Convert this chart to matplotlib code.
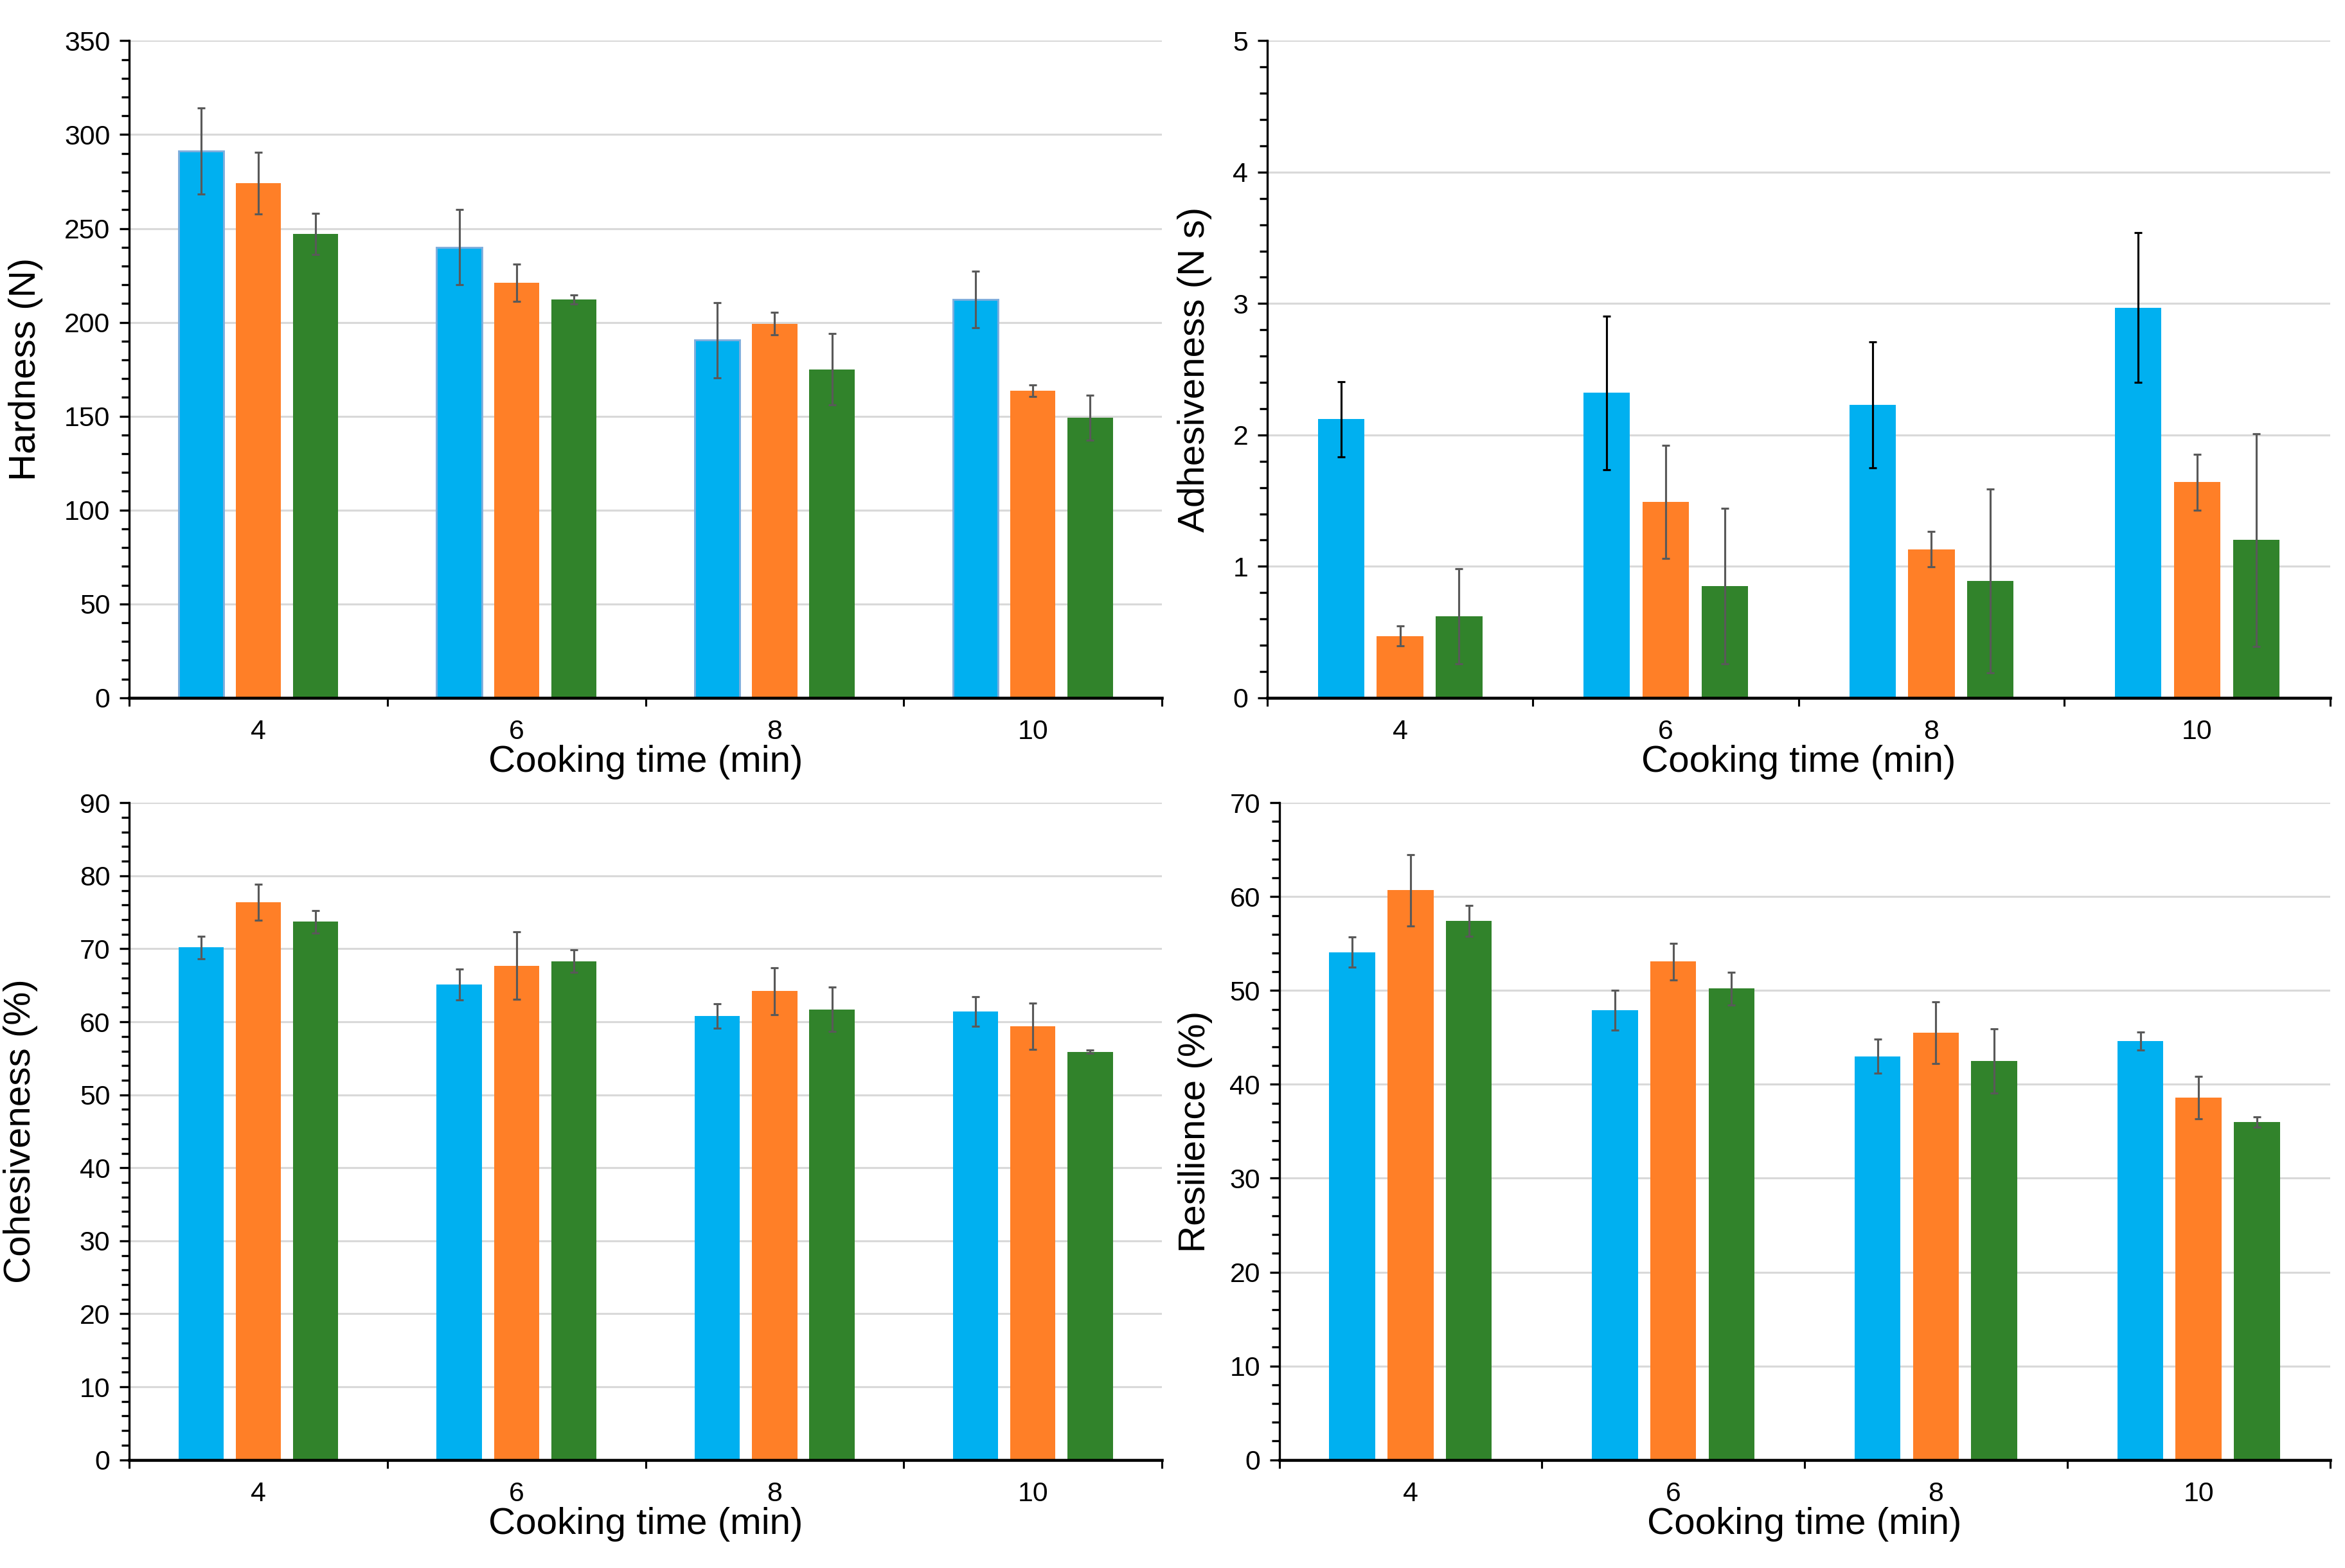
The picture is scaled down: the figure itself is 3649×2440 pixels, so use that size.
import matplotlib
matplotlib.use("Agg")
import matplotlib.pyplot as plt
import numpy as np
from matplotlib.ticker import MultipleLocator

plt.rcParams['font.family'] = ['Liberation Sans', 'DejaVu Sans']

cooking_time = ["4", "6", "8", "10"]

# Hardness (N)
hard_blue = [291.3, 240.0, 190.5, 212.2]
hard_blue_err = [23, 20, 20, 15]
hard_orange = [274.2, 221.0, 199.3, 163.5]
hard_orange_err = [16.5, 10, 6, 3]
hard_green = [247.2, 212.2, 175.0, 149.3]
hard_green_err = [11, 2.5, 19, 12]

# Adhesiveness (N s)
adh_blue = [2.12, 2.32, 2.23, 2.97]
adh_blue_err = [0.285, 0.585, 0.48, 0.57]
adh_orange = [0.47, 1.49, 1.13, 1.64]
adh_orange_err = [0.075, 0.43, 0.135, 0.215]
adh_green = [0.62, 0.85, 0.89, 1.20]
adh_green_err = [0.36, 0.59, 0.70, 0.81]

# Cohesiveness (%)
coh_blue = [70.2, 65.1, 60.8, 61.4]
coh_blue_err = [1.55, 2.1, 1.65, 2.0]
coh_orange = [76.4, 67.7, 64.2, 59.4]
coh_orange_err = [2.45, 4.65, 3.2, 3.2]
coh_green = [73.7, 68.3, 61.7, 55.9]
coh_green_err = [1.55, 1.55, 3.05, 0.2]

# Resilience (%)
res_blue = [54.1, 47.9, 43.0, 44.6]
res_blue_err = [1.6, 2.15, 1.8, 0.95]
res_orange = [60.7, 53.1, 45.5, 38.6]
res_orange_err = [3.8, 1.95, 3.3, 2.25]
res_green = [57.4, 50.2, 42.5, 36.0]
res_green_err = [1.65, 1.75, 3.4, 0.55]

c_blue = '#00B0F0'
c_orange = '#FF7F27'
c_green = '#31832B'
err_col = '#595959'

fig = plt.figure(figsize=(3649/300, 2440/300), dpi=300)

# [left, bottom, width, height], ymax, major, minor, ylabel, label x
panels = [
    ([0.0551, 0.555, 0.4404, 0.419], 350, 50, 10, "Hardness (N)", -0.100,
     (hard_blue, hard_blue_err), (hard_orange, hard_orange_err), (hard_green, hard_green_err)),
    ([0.5404, 0.555, 0.4532, 0.419], 5, 1, 0.2, "Adhesiveness (N s)", -0.068,
     (adh_blue, adh_blue_err), (adh_orange, adh_orange_err), (adh_green, adh_green_err)),
    ([0.0551, 0.069, 0.4404, 0.419], 90, 10, 2, "Cohesiveness (%)", -0.105,
     (coh_blue, coh_blue_err), (coh_orange, coh_orange_err), (coh_green, coh_green_err)),
    ([0.5455, 0.069, 0.4481, 0.419], 70, 10, 2, "Resilience (%)", -0.080,
     (res_blue, res_blue_err), (res_orange, res_orange_err), (res_green, res_green_err)),
]

x = np.arange(len(cooking_time)) + 0.5
w = 0.175
off = 0.222

for i, (rect, ymax, major, minor, ylab, labx, sb, so, sg) in enumerate(panels):
    ax = fig.add_axes(rect)
    blue_edge = '#7FAEDD' if i == 0 else 'none'
    blue_err = 'black' if i == 1 else err_col
    ax.bar(x - off, sb[0], w, color=c_blue, edgecolor=blue_edge, linewidth=0.7, zorder=2)
    ax.bar(x, so[0], w, color=c_orange, zorder=2)
    ax.bar(x + off, sg[0], w, color=c_green, zorder=2)
    for xs, (vals, errs), ec in [(x - off, sb, blue_err), (x, so, err_col), (x + off, sg, err_col)]:
        ax.errorbar(xs, vals, yerr=errs, fmt='none', ecolor=ec, elinewidth=0.75,
                    capsize=1.5, capthick=0.75, zorder=3)

    ax.set_xlim(0, 4)
    ax.set_ylim(0, ymax)
    ax.yaxis.set_major_locator(MultipleLocator(major))
    ax.yaxis.set_minor_locator(MultipleLocator(minor))
    ax.grid(axis='y', color='#D9D9D9', linewidth=0.75, zorder=0)
    ax.set_axisbelow(True)

    ax.set_xticks([0, 1, 2, 3, 4])
    ax.set_xticklabels([])
    ax.set_xticks(x, minor=True)
    ax.set_xticklabels(cooking_time, minor=True)
    ax.tick_params(axis='x', which='major', direction='out', length=3.2, width=0.75)
    ax.tick_params(axis='x', which='minor', length=0, pad=8, labelsize=10.3)
    ax.tick_params(axis='y', which='major', direction='out', length=3.6, width=0.8, labelsize=10.3)
    ax.tick_params(axis='y', which='minor', direction='out', length=2.8, width=0.8)

    for s in ['top', 'right']:
        ax.spines[s].set_visible(False)
    ax.spines['left'].set_linewidth(0.8)
    ax.spines['bottom'].set_linewidth(1.1)

    ax.set_xlabel("Cooking time (min)", fontsize=14, labelpad=0)
    ax.set_ylabel(ylab, fontsize=14, va='center')
    ax.yaxis.set_label_coords(labx, 0.5)

fig.savefig("out.png", dpi=300)
